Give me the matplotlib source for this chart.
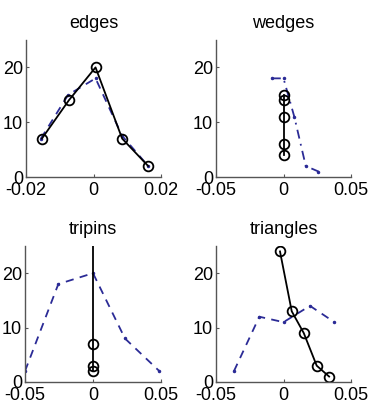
import numpy as np
import matplotlib.pyplot as plt

plt.rcParams['font.family'] = ['Liberation Sans', 'DejaVu Sans']
plt.rcParams['axes.unicode_minus'] = False

# edges
edges_x = [-0.0153, -0.0073, 0.0006, 0.0085, 0.0162]
edges_y = [7, 14, 20, 7, 2]
edges_bx = [-0.0156, -0.0075, 0.0006, 0.0085, 0.0162]
edges_by = [7, 15, 18, 7.5, 2]

# wedges
wedges_x = [0, 0, 0, 0, 0]
wedges_y = [4, 6, 11, 14, 15]
wedges_bx = [-0.0087, 0.0, 0.008, 0.0165, 0.0259]
wedges_by = [18, 18, 11, 2, 1]

# tripins
tripins_x = [0, 0, 0, 0]
tripins_y = [2, 3, 7, 40]
tripins_bx = [-0.05, -0.0255, 0.0, 0.0235, 0.0488]
tripins_by = [2, 18, 20, 8, 2]

# triangles
tri_x = [-0.0026, 0.0061, 0.015, 0.0246, 0.0338]
tri_y = [24, 13, 9, 3, 1]
tri_bx = [-0.0367, -0.0179, 0.0, 0.0196, 0.0377]
tri_by = [2, 12, 11, 14, 11]

dashed = (0, (4.5, 3.5))
dashdot = (0, (5, 3, 1, 3))

panels = [
    ('edges', edges_x, edges_y, edges_bx, edges_by, (-0.02, 0.02), [-0.02, 0, 0.02], ['-0.02', '0', '0.02'], dashed),
    ('wedges', wedges_x, wedges_y, wedges_bx, wedges_by, (-0.05, 0.05), [-0.05, 0, 0.05], ['-0.05', '0', '0.05'], dashdot),
    ('tripins', tripins_x, tripins_y, tripins_bx, tripins_by, (-0.05, 0.05), [-0.05, 0, 0.05], ['-0.05', '0', '0.05'], dashed),
    ('triangles', tri_x, tri_y, tri_bx, tri_by, (-0.05, 0.05), [-0.05, 0, 0.05], ['-0.05', '0', '0.05'], dashed),
]

# axes rectangles in pixels (left, top, right, bottom)
rects = [(26, 40, 161, 177), (216, 40, 351, 177), (25, 246, 161, 382), (216, 246, 351, 382)]
W, H = 374, 405

fig = plt.figure(figsize=(W / 100, H / 100), dpi=100)
blue = '#2b2b96'

for (title, x, y, bx, by, xl, xt, xtl, ls), (l, t, r, b) in zip(panels, rects):
    ax = fig.add_axes([l / W, 1 - b / H, (r - l) / W, (b - t) / H])
    ax.plot(bx, by, color=blue, lw=1.3, ls=ls, marker='.', markersize=3)
    ax.plot(x, y, color='black', lw=1.3, marker='o', markersize=7, mfc='none', mew=1.3)
    ax.set_xlim(xl)
    ax.set_ylim(0, 25)
    ax.set_xticks(xt)
    ax.set_xticklabels(xtl)
    ax.set_yticks([0, 10, 20])
    ax.set_title(title, fontsize=13, pad=9)
    for s in ['top', 'right']:
        ax.spines[s].set_visible(False)
    for s in ['left', 'bottom']:
        ax.spines[s].set_color('#555555')
        ax.spines[s].set_linewidth(1.0)
    ax.tick_params(direction='in', length=2, width=0.8, colors='#555555',
                   labelcolor='black', labelsize=13)
    ax.tick_params(axis='x', pad=3.5)
    ax.tick_params(axis='y', pad=2)

fig.savefig('out.png', dpi=100)
